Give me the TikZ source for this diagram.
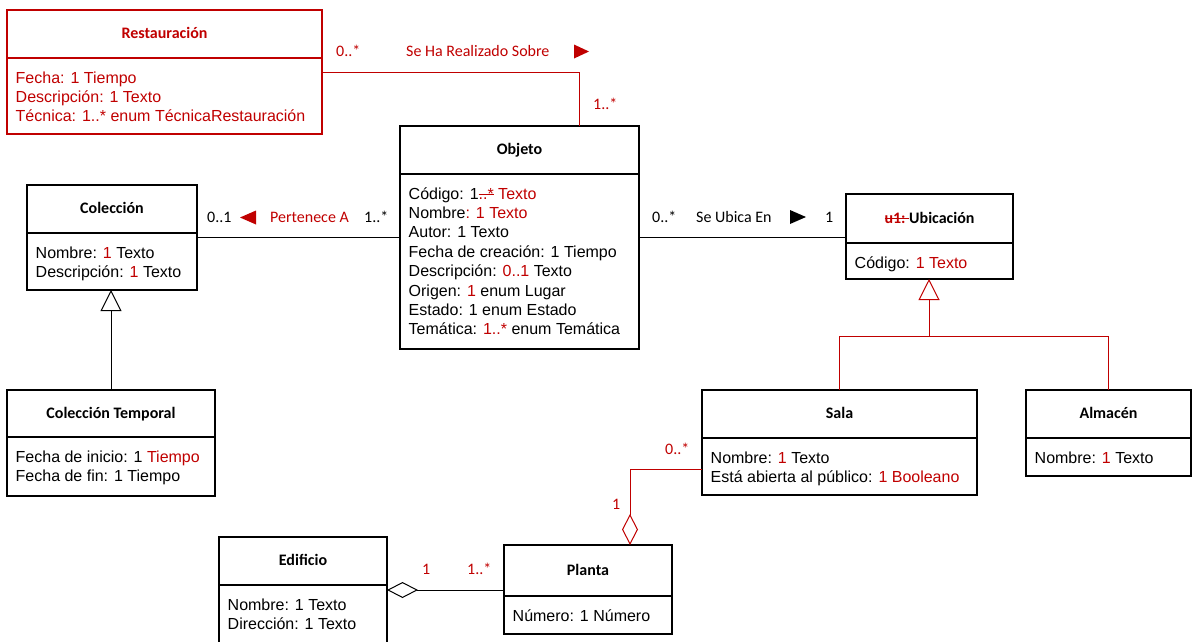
\documentclass[tikz,border=0pt]{standalone}
\usepackage{fontspec}
\setmainfont{Liberation Sans}
\newfontfamily\calfont{Carlito}
\usetikzlibrary{arrows.meta}
\definecolor{umlred}{HTML}{C00000}
\newsavebox\strkbox
% struck-through text
\newcommand\strk[1]{\sbox\strkbox{#1}\rlap{\rule[0.25em]{\wd\strkbox}{0.07em}}\usebox\strkbox}
\newcommand\rd[1]{\textcolor{umlred}{#1}}
% class box: [colour]{name}{x}{y}{width}{height}{header height}{title}{attributes}
\newcommand\umlclass[9][black]{%
  \node[classbox, draw=#1, minimum width=#5, minimum height=#6] (#2) at (#3,#4) {};
  \draw[line width=1.1pt, draw=#1] ([yshift=-#7pt]#2.north west) -- ([yshift=-#7pt]#2.north east);
  \node[ctitle, text=#1] (#2-t) at ([yshift={-(#7/2+4.8)*1pt}]#2.north) {#8};
  \node[cattr, text=#1] (#2-a) at ([xshift=8.5pt, yshift={-(#7+11.4)*1pt}]#2.north west) {\strut #9};
}
\begin{document}
\begin{tikzpicture}[x=1pt,y=-1pt,
  classbox/.style={line width=1.1pt, inner sep=0pt, outer sep=0pt, anchor=north west},
  ctitle/.style={anchor=base, inner sep=0pt, font=\calfont\bfseries\fontsize{16}{19}\selectfont},
  cattr/.style={anchor=north west, inner sep=0pt, align=left, font=\fontsize{16}{19.4}\selectfont},
  lbl/.style={anchor=base west, inner sep=0pt, font=\calfont\fontsize{16}{19}\selectfont},
  conn/.style={line width=1pt},
  gen/.style={conn, -{Triangle[open, length=21pt, width=21pt, line width=1pt]}},
  agg/.style={conn, {Diamond[open, length=31pt, width=16pt, line width=1pt]}-}]
\useasboundingbox (0,0) rectangle (1192,641);

% classes
\umlclass[umlred]{rest}{7}{10}{315}{124}{48}{Restauración}{Fecha: 1 Tiempo\\Descripción: 1 Texto\\Técnica: 1..* enum TécnicaRestauración}
\umlclass{obj}{400}{126}{239}{223}{48}{Objeto}{Código: 1\rd{\strk{..*} Texto}\\Nombre\rd{: 1 Texto}\\Autor: 1 Texto\\Fecha de creación: 1 Tiempo\\Descripción: \rd{0..1} Texto\\Origen: \rd{1} enum Lugar\\Estado: 1 enum Estado\\Temática: \rd{1..*} enum Temática}
\umlclass{ubi}{846}{194}{167}{85}{49}{\rd{\strk{u1:\ }}Ubicación}{Código: \rd{1 Texto}}
\umlclass{col}{27}{185}{170}{105}{48}{Colección}{Nombre: \rd{1} Texto\\Descripción: \rd{1} Texto}
\umlclass{ct}{7}{390}{208}{106}{47}{Colección Temporal}{Fecha de inicio: 1 \rd{Tiempo}\\Fecha de fin: 1 Tiempo}
\umlclass{sala}{702}{390}{275}{105}{48}{Sala}{Nombre: \rd{1} Texto\\Está abierta al público: \rd{1 Booleano}}
\umlclass{alm}{1026}{390}{165}{86}{48}{Almacén}{Nombre: \rd{1} Texto}
\umlclass{edi}{219}{537}{168}{115}{48}{Edificio}{Nombre: 1 Texto\\Dirección: 1 Texto}
\umlclass{pla}{504}{545}{168}{89}{51}{Planta}{Número: 1 Número}

% Restauración -- Objeto
\draw[conn, umlred] (rest.east |- 0,72) -- (579,72) -- (obj.north -| 579,0);
\node[lbl, text=umlred] (r-m1) at (336,56) {0..*};
\node[lbl, text=umlred] (r-name) at (406,56) {Se Ha Realizado Sobre};
\fill[umlred] (589,51.5) -- (574,44.5) -- (574,58.5) -- cycle;
\node[lbl, text=umlred] (r-m2) at (593,109) {1..*};

% Colección -- Objeto
\draw[conn] (col.east |- 0,237) -- (obj.west |- 0,237);
\node[lbl] (p-m1) at (207,222) {0..1};
\fill[umlred] (240,217.5) -- (256,210.5) -- (256,224.5) -- cycle;
\node[lbl, text=umlred] (p-name) at (270,222) {Pertenece A};
\node[lbl] (p-m2) at (364,222) {1..*};

% Objeto -- Ubicación
\draw[conn] (obj.east |- 0,237) -- (ubi.west |- 0,237);
\node[lbl] (u-m1) at (652,222) {0..*};
\node[lbl] (u-name) at (696,222) {Se Ubica En};
\fill[black] (806,217) -- (790,210) -- (790,224) -- cycle;
\node[lbl] (u-m2) at (825,222) {1};

% generalisations
\draw[gen] (ct.north -| 111,0) -- (col.south -| 111,0);
\draw[conn, umlred] (sala.north -| 839,0) -- (839,336) -- (1108,336) -- (alm.north -| 1108,0);
\draw[gen, umlred] (929,336) -- (ubi.south -| 929,0);

% Sala -- Planta
\draw[agg, umlred] (pla.north -| 630,0) -- (630,469) -- (sala.west |- 0,469);
\node[lbl, text=umlred] (s-m1) at (665,454) {0..*};
\node[lbl, text=umlred] (s-m2) at (612,509) {1};

% Edificio -- Planta
\draw[agg] (edi.east |- 0,590) -- (pla.west |- 0,590);
\node[lbl, text=umlred] (e-m1) at (422,574) {1};
\node[lbl, text=umlred] (e-m2) at (467,574) {1..*};
\end{tikzpicture}
\end{document}
